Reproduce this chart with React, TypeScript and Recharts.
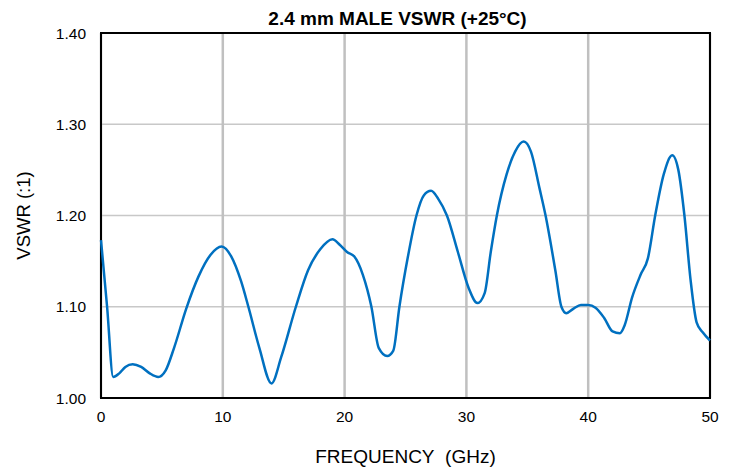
import { CartesianGrid, Line, LineChart, ReferenceArea, XAxis, YAxis } from "recharts";

// frequency (GHz) and VSWR
const freqs = [
  0, 0.5, 1.0, 1.5, 2.0, 2.6, 3.3, 4.0, 4.7, 5.3, 6.0, 7.0, 8.0, 9.0, 9.9, 10.7, 11.5, 12.1, 13.0, 14.0,
  14.8, 16.0, 17.0, 18.0, 19.0, 19.6, 20.2, 20.8, 21.5, 22.2, 22.8, 23.5, 24.0, 24.5, 25.2, 25.9, 26.5,
  27.1, 27.7, 28.4, 29.3, 30.2, 30.9, 31.5, 32.0, 32.5, 33.3, 34.0, 34.7, 35.3, 36.0, 36.5, 37.3, 37.8,
  38.2, 38.8, 39.4, 40.0, 40.6, 41.3, 42.0, 42.6, 43.0, 43.6, 44.3, 44.9, 45.5, 46.2, 46.9, 47.4, 47.9,
  48.4, 48.9, 49.4, 50.0,
];
const vswr = [
  1.173, 1.1, 1.023, 1.027, 1.034, 1.037, 1.034, 1.027, 1.023, 1.03, 1.055, 1.098, 1.133, 1.157, 1.166,
  1.155, 1.128, 1.1, 1.055, 1.016, 1.045, 1.1, 1.14, 1.163, 1.174, 1.168, 1.16, 1.155, 1.135, 1.1, 1.055,
  1.046, 1.052, 1.1, 1.155, 1.2, 1.222, 1.227, 1.218, 1.2, 1.16, 1.12, 1.104, 1.115, 1.16, 1.2, 1.245,
  1.27, 1.281, 1.27, 1.23, 1.2, 1.14, 1.1, 1.093, 1.098, 1.102, 1.102, 1.099, 1.088, 1.073, 1.071, 1.08,
  1.11, 1.135, 1.153, 1.2, 1.245, 1.266, 1.25, 1.2, 1.13, 1.083, 1.072, 1.063,
];
const xTicks = [0, 10, 20, 30, 40, 50];
const yTicks = [1.0, 1.1, 1.2, 1.3, 1.4];

const data = freqs.map((f, i) => ({ f, v: vswr[i] }));

const font = "'Liberation Sans', Arial, sans-serif";

export default function App() {
  return (
    <div style={{ position: "absolute", left: 0, top: 0, width: 735, height: 472, background: "#fff", fontFamily: font }}>
      <div
        style={{
          position: "absolute",
          left: 100,
          width: 595,
          top: 8,
          textAlign: "center",
          fontWeight: "bold",
          fontSize: 19,
          lineHeight: "22px",
          color: "#000",
        }}
      >
        2.4 mm MALE VSWR (+25°C)
      </div>
      <LineChart width={735} height={472} data={data} margin={{ top: 33, right: 25, left: 0, bottom: 0 }}>
        <CartesianGrid vertical={false} stroke="#c8c8c8" strokeWidth={1.5} />
        <CartesianGrid horizontal={false} stroke="#c0c0c0" strokeWidth={2.5} />
        <XAxis
          dataKey="f"
          type="number"
          domain={[0, 50]}
          ticks={xTicks}
          tickLine={false}
          axisLine={false}
          tickSize={0}
          tickMargin={13}
          height={74}
          tick={{ fill: "#000", fontSize: 15.5, fontFamily: font }}
          label={{
            value: "FREQUENCY\u00a0 (GHz)",
            position: "insideBottom",
            offset: 9,
            fill: "#000",
            fontSize: 19,
            fontFamily: font,
          }}
        />
        <YAxis
          type="number"
          domain={[1.0, 1.4]}
          ticks={yTicks}
          tickFormatter={(v: number) => v.toFixed(2)}
          tickLine={false}
          axisLine={false}
          tickSize={0}
          tickMargin={15}
          width={101}
          tick={{ fill: "#000", fontSize: 15.5, fontFamily: font }}
          label={{
            content: (props: any) => {
              const vb = props.viewBox;
              const cx = 23;
              const cy = vb.y + vb.height / 2;
              return (
                <text
                  x={cx}
                  y={cy}
                  transform={`rotate(-90, ${cx}, ${cy})`}
                  textAnchor="middle"
                  dominantBaseline="central"
                  fill="#000"
                  fontSize={18.5}
                  fontFamily={font}
                >
                  VSWR (:1)
                </text>
              );
            },
          }}
        />
        <Line
          type="monotone"
          dataKey="v"
          stroke="#0070c0"
          strokeWidth={2.5}
          dot={false}
          isAnimationActive={false}
        />
        <ReferenceArea x1={0} x2={50} y1={1.0} y2={1.4} fill="none" stroke="#000" strokeWidth={2} ifOverflow="visible" />
      </LineChart>
    </div>
  );
}
